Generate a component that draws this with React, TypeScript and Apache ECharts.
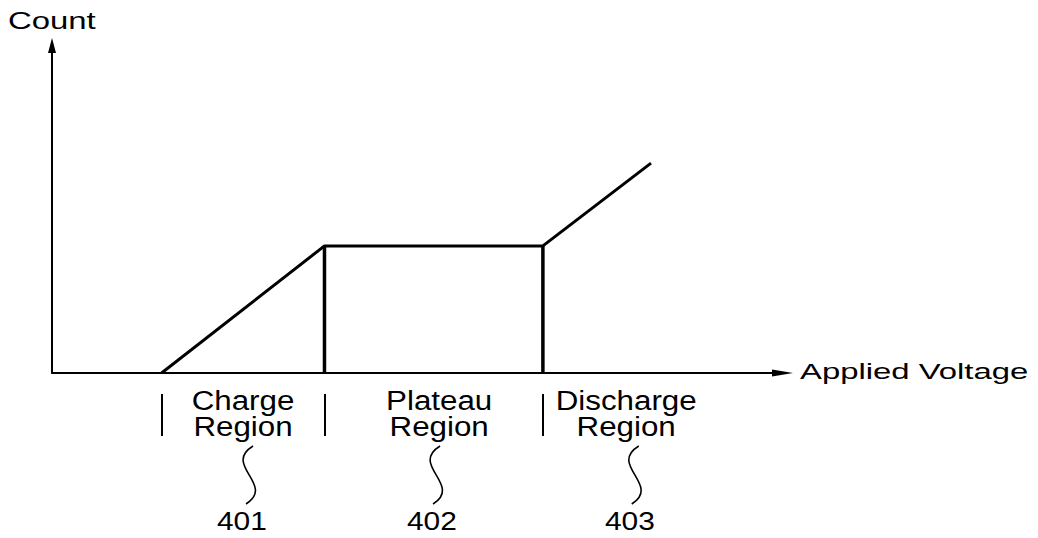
import React, { useEffect, useRef } from "react";
import * as echarts from "echarts";

// Curve: count vs applied voltage (arbitrary units)
const curveX = [15, 37.3, 67.2, 82];
const curveY = [0, 38.8, 38.8, 64.1];
// Region boundaries (vertical lines up to the plateau)
const boundaryX = [37.3, 67.2];
const plateauY = 38.8;
// Separator marks below the axis
const separatorX = [15, 37.3, 67.2];
// Region labels
const regionLabels = ["Charge\nRegion", "Plateau\nRegion", "Discharge\nRegion"];
const regionLabelX = [26.15, 53.0, 78.6];
// Reference numbers and leader squiggles
const refNumbers = ["401", "402", "403"];
const refNumberX = [26.0, 52.0, 79.1];
const leaderX = [26.7, 52.3, 79.5];

const FONT = '"Liberation Sans", Arial, sans-serif';

export default function App() {
  const ref = useRef<HTMLDivElement>(null);
  useEffect(() => {
    if (!ref.current) return;
    const chart = echarts.init(ref.current, null, { renderer: "svg" });
    const option: any = {
      animation: false,
      backgroundColor: "#fff",
      grid: { left: 52, right: 255.5, top: 45.5, bottom: 165 },
      xAxis: [
        {
          type: "value",
          min: 0,
          max: 100,
          axisLine: {
            show: true,
            symbol: ["none", "triangle"],
            symbolSize: [7, 21],
            lineStyle: { color: "#000", width: 2 },
          },
          axisTick: { show: false },
          axisLabel: { show: false },
          splitLine: { show: false },
        },
        {
          type: "value",
          min: 0,
          max: 100,
          position: "bottom",
          offset: 21,
          axisLine: { show: false },
          axisTick: {
            show: true,
            customValues: separatorX,
            length: 42,
            lineStyle: { color: "#000", width: 2 },
          },
          axisLabel: { show: false },
          splitLine: { show: false },
        },
      ],
      yAxis: {
        type: "value",
        min: 0,
        max: 100,
        axisLine: {
          show: true,
          symbol: ["none", "triangle"],
          symbolSize: [8, 15],
          lineStyle: { color: "#000", width: 2 },
        },
        axisTick: { show: false },
        axisLabel: { show: false },
        splitLine: { show: false },
      },
      series: [
        {
          type: "line",
          data: curveX.map((x, i) => [x, curveY[i]]),
          symbol: "none",
          lineStyle: { color: "#000", width: 3 },
          z: 3,
        },
        ...boundaryX.map((bx) => ({
          type: "line",
          data: [
            [bx, 0],
            [bx, plateauY],
          ],
          symbol: "none",
          lineStyle: { color: "#000", width: 3.5 },
          z: 3,
        })),
      ],
    };
    chart.setOption(option);

    const px = (x: number) => (chart.convertToPixel({ seriesIndex: 0 }, [x, 0]) as number[])[0];

    const baseStyle = (text: string, size: number, align: string) => ({
      text,
      font: `${size}px ${FONT}`,
      fill: "#000",
      textAlign: align,
      align,
      textVerticalAlign: "middle",
      verticalAlign: "middle",
    });

    const graphics: any[] = [];
    graphics.push({
      type: "text",
      x: 8,
      y: 21,
      scaleX: 1.37,
      style: baseStyle("Count", 24, "left"),
    });
    graphics.push({
      type: "text",
      x: 800,
      y: 371,
      scaleX: 1.46,
      style: baseStyle("Applied Voltage", 22.5, "left"),
    });
    regionLabels.forEach((t, i) => {
      graphics.push({
        type: "text",
        x: px(regionLabelX[i]),
        y: 414,
        scaleX: 1.16,
        style: { ...baseStyle(t, 27, "center"), lineHeight: 26 },
      });
    });
    refNumbers.forEach((t, i) => {
      graphics.push({
        type: "text",
        x: px(refNumberX[i]),
        y: 521,
        scaleX: 1.15,
        style: baseStyle(t, 26, "center"),
      });
    });
    leaderX.forEach((lx) => {
      const cx = px(lx);
      graphics.push({
        type: "bezierCurve",
        shape: {
          x1: cx + 6,
          y1: 446,
          cpx1: cx - 25,
          cpy1: 465,
          cpx2: cx + 29,
          cpy2: 485,
          x2: cx - 1,
          y2: 504,
        },
        style: { stroke: "#000", lineWidth: 1.6, fill: "none" },
      });
    });
    chart.setOption({ graphic: { elements: graphics } });

    return () => chart.dispose();
  }, []);

  return (
    <div
      ref={ref}
      style={{ position: "absolute", left: 0, top: 0, width: 1038, height: 538, background: "#fff" }}
    />
  );
}
